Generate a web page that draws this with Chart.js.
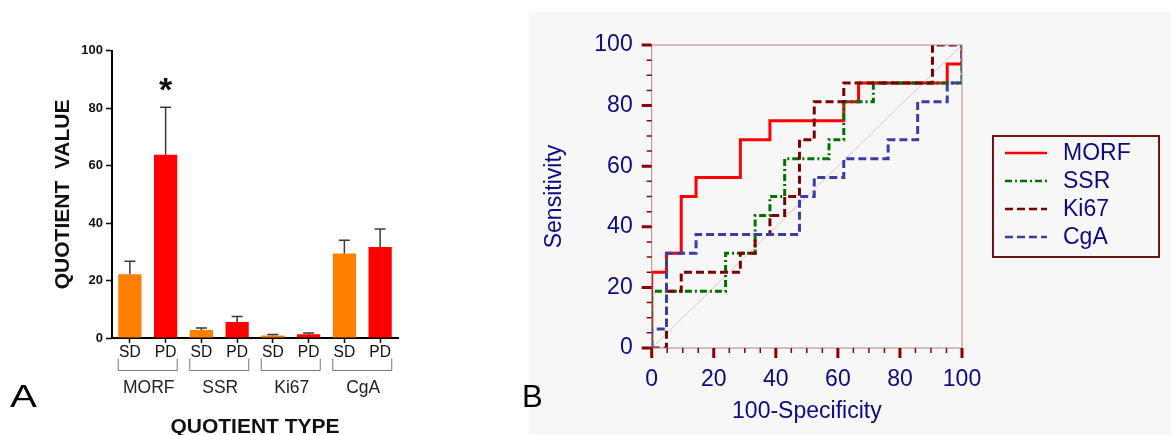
<!DOCTYPE html>
<html>
<head>
<meta charset="utf-8">
<script src="https://cdn.jsdelivr.net/npm/chart.js@4.4.1/dist/chart.umd.min.js"></script>
<style>
  html, body { margin: 0; padding: 0; background: #fff; overflow: hidden; }
  body { width: 1171px; height: 435px; position: relative; }
  #panelA { position: absolute; left: 0; top: 0; }
  #panelB { position: absolute; left: 529px; top: 12px; background: #f7f7f7; }
  .letter { position: absolute; font-family: 'Liberation Sans', Arial, sans-serif; font-size: 31px; line-height: 1; color: #000; }
</style>
</head>
<body>
<canvas id="panelA" width="430" height="445"></canvas>
<canvas id="panelB" width="642" height="423"></canvas>
<div class="letter" style="left:10px; top:381px; transform-origin:left top; transform:scaleX(1.3);">A</div>
<div class="letter" style="left:522px; top:381px;">B</div>
<script>
// Panel A: quotient values, mean and SEM
const barLabels = ['SD', 'PD', 'SD', 'PD', 'SD', 'PD', 'SD', 'PD'];
const groupNames = ['MORF', 'SSR', 'Ki67', 'CgA'];
const meanValues = [22.2, 63.8, 2.8, 5.6, 0.9, 1.3, 29.4, 31.7];
const semValues = [4.5, 16.5, 0.7, 1.9, 0.3, 0.4, 4.6, 6.2];
const starMarks = ['', '*', '', '', '', '', '', ''];

// Panel B: ROC curves (x = 100-Specificity, y = Sensitivity)
const morfX = [0, 0, 4.76, 9.52, 14.29, 28.57, 38.10, 61.90, 66.67, 95.24, 100];
const morfY = [0, 25, 31.25, 50, 56.25, 68.75, 75, 81.25, 87.5, 93.75, 100];
const ssrX = [0, 0, 23.81, 33.33, 38.10, 42.86, 57.14, 61.90, 71.43, 100];
const ssrY = [0, 18.75, 31.25, 43.75, 50, 62.5, 68.75, 81.25, 87.5, 100];
const ki67X = [0, 4.76, 9.52, 28.57, 33.33, 38.10, 42.86, 47.62, 52.38, 61.90, 90.48, 100];
const ki67Y = [0, 18.75, 25, 31.25, 37.5, 43.75, 50, 68.75, 81.25, 87.5, 100, 100];
const cgaX = [0, 0, 4.76, 14.29, 47.62, 52.38, 61.90, 76.19, 85.71, 95.24, 100];
const cgaY = [0, 6.25, 31.25, 37.5, 50, 56.25, 62.5, 68.75, 81.25, 87.5, 100];
const refX = [0, 100];
const refY = [0, 100];

const family = "'Liberation Sans', Arial, sans-serif";
const navy = '#0b0b80';
Chart.defaults.font.family = family;

const toPoints = (xs, ys) => xs.map((x, i) => ({ x: x, y: ys[i] }));

// error bars + significance star
const errorBars = {
  id: 'errorBars',
  afterDatasetsDraw(chart) {
    const { ctx } = chart;
    const y = chart.scales.y;
    const meta = chart.getDatasetMeta(0);
    ctx.save();
    meta.data.forEach((bar, i) => {
      const top = y.getPixelForValue(meanValues[i] + semValues[i]);
      ctx.strokeStyle = '#3a3a3a';
      ctx.lineWidth = 1.5;
      ctx.beginPath();
      ctx.moveTo(bar.x, bar.y);
      ctx.lineTo(bar.x, top);
      ctx.moveTo(bar.x - 5.5, top);
      ctx.lineTo(bar.x + 5.5, top);
      ctx.stroke();
      if (starMarks[i]) {
        ctx.fillStyle = '#111';
        ctx.font = 'bold 34px ' + family;
        ctx.textAlign = 'center';
        ctx.textBaseline = 'alphabetic';
        ctx.fillText(starMarks[i], bar.x, top - 6);
      }
    });
    ctx.restore();
  }
};

// brackets and group names under the SD/PD labels
const groupBrackets = {
  id: 'groupBrackets',
  afterDraw(chart) {
    const { ctx, chartArea } = chart;
    const meta = chart.getDatasetMeta(0);
    const bTop = chartArea.bottom + 20.5;
    const bBottom = chartArea.bottom + 32.5;
    ctx.save();
    groupNames.forEach((name, g) => {
      const a = meta.data[2 * g];
      const b = meta.data[2 * g + 1];
      const left = a.x - a.width / 2;
      const right = b.x + b.width / 2;
      ctx.strokeStyle = '#777';
      ctx.lineWidth = 1;
      ctx.beginPath();
      ctx.moveTo(left, bTop);
      ctx.lineTo(left, bBottom);
      ctx.lineTo(right, bBottom);
      ctx.lineTo(right, bTop);
      ctx.stroke();
      ctx.fillStyle = '#222';
      ctx.font = '17.5px ' + family;
      ctx.textAlign = 'center';
      ctx.textBaseline = 'middle';
      ctx.fillText(name, (left + right) / 2 + 1, chartArea.bottom + 50);
    });
    ctx.restore();
  }
};

new Chart(document.getElementById('panelA'), {
  type: 'bar',
  data: {
    labels: barLabels,
    datasets: [{
      data: meanValues,
      backgroundColor: barLabels.map((l) => (l === 'SD' ? '#ff8000' : '#ff0000')),
      borderWidth: 0,
      categoryPercentage: 1,
      barPercentage: 0.65
    }]
  },
  options: {
    responsive: false,
    animation: false,
    layout: { padding: { top: 50.7, right: 32, left: 0, bottom: 0 } },
    plugins: { legend: { display: false }, tooltip: { enabled: false } },
    scales: {
      x: {
        grid: { drawOnChartArea: false, offset: false, tickLength: 5, color: '#000', tickWidth: 1.5 },
        border: { color: '#000', width: 2 },
        ticks: { color: '#111', font: { size: 15.6 }, padding: 0, maxRotation: 0, autoSkip: false },
        title: {
          display: true, text: 'QUOTIENT TYPE', color: '#111',
          font: { size: 21, weight: 'bold' }, padding: { top: 0, bottom: 5.4 }
        },
        afterFit(scale) { scale.height = 107; }
      },
      y: {
        min: 0, max: 100,
        ticks: { stepSize: 20, color: '#111', font: { size: 13, weight: 'bold' }, padding: 3 },
        grid: { drawOnChartArea: false, tickLength: 6, color: '#000', tickWidth: 1.5 },
        border: { color: '#000', width: 2 },
        title: {
          display: true, text: 'QUOTIENT  VALUE', color: '#111',
          font: { size: 21, weight: 'bold' }, padding: { top: 50.4, bottom: 0 }
        },
        afterFit(scale) { scale.width = 112; }
      }
    }
  },
  plugins: [errorBars, groupBrackets]
});

// frame, major/minor tick marks and legend box for the ROC panel
const rocDecor = {
  id: 'rocDecor',
  afterDraw(chart) {
    const { ctx, chartArea } = chart;
    const { x, y } = chart.scales;
    ctx.save();
    ctx.strokeStyle = '#b58585';
    ctx.lineWidth = 1;
    ctx.strokeRect(chartArea.left, chartArea.top, chartArea.right - chartArea.left, chartArea.bottom - chartArea.top);
    ctx.strokeStyle = '#8b0000';
    for (let v = 0; v <= 100; v += 5) {
      const major = v % 20 === 0;
      const len = major ? 10 : 5;
      ctx.lineWidth = major ? 3 : 1.5;
      const px = x.getPixelForValue(v);
      const py = y.getPixelForValue(v);
      ctx.beginPath();
      ctx.moveTo(px, chartArea.bottom);
      ctx.lineTo(px, chartArea.bottom + len);
      ctx.moveTo(chartArea.left, py);
      ctx.lineTo(chartArea.left - len, py);
      ctx.stroke();
    }
    // legend
    const items = chart.data.datasets.filter((d) => d.inLegend);
    const boxLeft = chartArea.right + 31;
    const boxTop = chartArea.top + 91;
    ctx.strokeStyle = '#6b1515';
    ctx.lineWidth = 2;
    ctx.strokeRect(boxLeft, boxTop, 166, 121);
    items.forEach((ds, i) => {
      const rowY = boxTop + 17 + i * 28;
      ctx.strokeStyle = ds.borderColor;
      ctx.lineWidth = 2.5;
      ctx.setLineDash(ds.borderDash || []);
      ctx.beginPath();
      ctx.moveTo(boxLeft + 12, rowY);
      ctx.lineTo(boxLeft + 54, rowY);
      ctx.stroke();
      ctx.setLineDash([]);
      ctx.fillStyle = navy;
      ctx.font = '23px ' + family;
      ctx.textAlign = 'left';
      ctx.textBaseline = 'middle';
      ctx.fillText(ds.label, boxLeft + 70, rowY + 1);
    });
    ctx.restore();
  }
};

new Chart(document.getElementById('panelB'), {
  type: 'line',
  data: {
    datasets: [
      { label: 'ref', data: toPoints(refX, refY), borderColor: '#dcc4c4', borderWidth: 1, order: 5 },
      { label: 'MORF', data: toPoints(morfX, morfY), borderColor: '#ff0000', borderWidth: 3, stepped: 'before', order: 4, inLegend: true },
      { label: 'SSR', data: toPoints(ssrX, ssrY), borderColor: '#007000', borderWidth: 3, borderDash: [7, 3, 2, 3], stepped: 'before', order: 3, inLegend: true },
      { label: 'Ki67', data: toPoints(ki67X, ki67Y), borderColor: '#7a0000', borderWidth: 3, borderDash: [8, 4], stepped: 'before', order: 2, inLegend: true },
      { label: 'CgA', data: toPoints(cgaX, cgaY), borderColor: '#3c3ca6', borderWidth: 3, borderDash: [8, 4], stepped: 'before', order: 1, inLegend: true }
    ]
  },
  options: {
    responsive: false,
    animation: false,
    elements: { point: { radius: 0 }, line: { tension: 0, fill: false } },
    layout: { padding: { top: 33, right: 209, left: 0, bottom: 0 } },
    plugins: { legend: { display: false }, tooltip: { enabled: false } },
    scales: {
      x: {
        type: 'linear', min: 0, max: 100,
        ticks: { stepSize: 20, padding: 10, color: navy, font: { size: 23 } },
        grid: { display: false },
        border: { display: false },
        title: {
          display: true, text: '100-Specificity', color: navy,
          font: { size: 23 }, padding: { top: 0, bottom: 9.5 }
        },
        afterFit(scale) { scale.height = 87; }
      },
      y: {
        type: 'linear', min: 0, max: 100,
        ticks: { stepSize: 20, padding: 11, color: navy, font: { size: 23 } },
        grid: { display: false },
        border: { display: false },
        title: {
          display: true, text: 'Sensitivity', color: navy,
          font: { size: 23 }, padding: { top: 12.2, bottom: 0 }
        },
        afterFit(scale) { scale.width = 122.7; }
      }
    }
  },
  plugins: [rocDecor]
});
</script>
</body>
</html>
